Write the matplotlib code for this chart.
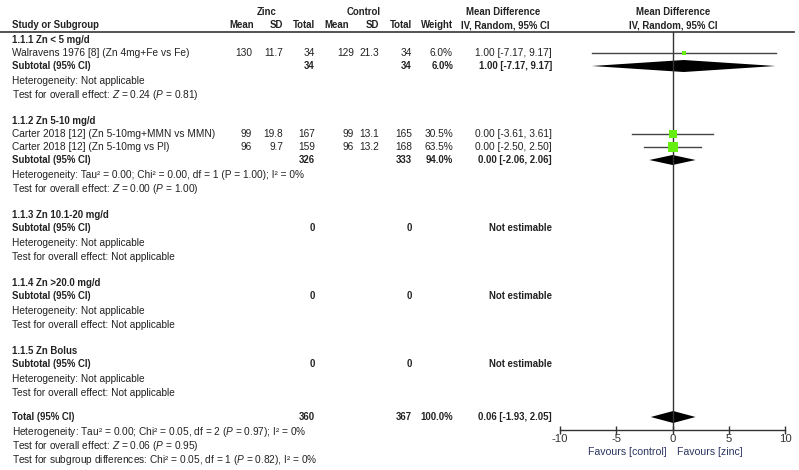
import numpy as np
import matplotlib.pyplot as plt

plt.rcParams['font.family'] = ['Liberation Sans', 'DejaVu Sans']
plt.rcParams['mathtext.fontset'] = 'custom'
plt.rcParams['mathtext.rm'] = 'Liberation Sans'
plt.rcParams['mathtext.it'] = 'Liberation Sans:italic'
plt.rcParams['axes.unicode_minus'] = False

# ---- data ----
group_titles = ['1.1.1 Zn < 5 mg/d', '1.1.2 Zn 5-10 mg/d', '1.1.3 Zn 10.1-20 mg/d',
                '1.1.4 Zn >20.0 mg/d', '1.1.5 Zn Bolus']
study_group = [0, 1, 1]
study_names = ['Walravens 1976 [8] (Zn 4mg+Fe vs Fe)',
               'Carter 2018 [12] (Zn 5-10mg+MMN vs MMN)',
               'Carter 2018 [12] (Zn 5-10mg vs Pl)']
zinc_mean = [130, 99, 96]
zinc_sd = [11.7, 19.8, 9.7]
zinc_n = [34, 167, 159]
ctrl_mean = [129, 99, 96]
ctrl_sd = [21.3, 13.1, 13.2]
ctrl_n = [34, 165, 168]
study_weight = [6.0, 30.5, 63.5]
study_md = [1.00, 0.00, 0.00]
study_lo = [-7.17, -3.61, -2.50]
study_hi = [9.17, 3.61, 2.50]

sub_zinc_n = [34, 326, 0, 0, 0]
sub_ctrl_n = [34, 333, 0, 0, 0]
sub_weight = [6.0, 94.0, None, None, None]
sub_md = [1.00, 0.00, None, None, None]
sub_lo = [-7.17, -2.06, None, None, None]
sub_hi = [9.17, 2.06, None, None, None]
sub_het = ['Heterogeneity: Not applicable',
           'Heterogeneity: Tau² = 0.00; Chi² = 0.00, df = 1 (P = 1.00); I² = 0%',
           'Heterogeneity: Not applicable',
           'Heterogeneity: Not applicable',
           'Heterogeneity: Not applicable']
sub_test = ['Test for overall effect: $Z$ = 0.24 ($P$ = 0.81)',
            'Test for overall effect: $Z$ = 0.00 ($P$ = 1.00)',
            'Test for overall effect: Not applicable',
            'Test for overall effect: Not applicable',
            'Test for overall effect: Not applicable']

total_zinc_n = 360
total_ctrl_n = 367
total_md, total_lo, total_hi = 0.06, -1.93, 2.05
total_notes = ['Heterogeneity: Tau² = 0.00; Chi² = 0.05, df = 2 ($P$ = 0.97); I² = 0%',
               'Test for overall effect: $Z$ = 0.06 ($P$ = 0.95)',
               'Test for subgroup differences: Chi² = 0.05, df = 1 ($P$ = 0.82), I² = 0%']

x_ticks = [-10, -5, 0, 5, 10]

# ---- layout ----
W, H = 799, 470
fig = plt.figure(figsize=(W / 100, H / 100), dpi=100)
tx = fig.add_axes([0, 0, 1, 1])
tx.set_xlim(0, W)
tx.set_ylim(H, 0)
tx.axis('off')

fs_b = 6.9   # bold
fs_r = 7.3   # regular
col = '#222222'
plot_left, plot_right = 560, 785
plot_top, plot_bottom = 32, 430

fp = fig.add_axes([plot_left / W, (H - plot_bottom) / H,
                   (plot_right - plot_left) / W, (plot_bottom - plot_top) / H])
fp.set_xlim(-10, 10)
fp.set_ylim(plot_bottom, plot_top)
fp.patch.set_alpha(0)
for s in ['top', 'right', 'left']:
    fp.spines[s].set_visible(False)
fp.spines['bottom'].set_color('#333333')
fp.spines['bottom'].set_linewidth(1.0)
fp.set_yticks([])
fp.set_xticks(x_ticks)
fp.tick_params(axis='x', direction='inout', length=6, width=1, color='#333333',
               labelsize=8.2, labelcolor='#333333', pad=0)
fp.axvline(0, color='#333333', lw=1.0)

def put(x, y, s, ha='left', bold=False, **kw):
    tx.text(x, y, s, ha=ha, va='center', fontsize=fs_b if bold else fs_r, color=col,
            fontweight='bold' if bold else 'normal', **kw)

def diamond(md, lo, hi, y, h):
    fp.fill([lo, md, hi, md], [y, y - h, y, y + h], color='black', lw=0)

# headers
put(267, 12, 'Zinc', ha='center', bold=True)
put(364, 12, 'Control', ha='center', bold=True)
put(503, 12, 'Mean Difference', ha='center', bold=True)
put(673, 12, 'Mean Difference', ha='center', bold=True)
put(12, 25, 'Study or Subgroup', bold=True)
hx = [(254, 'Mean'), (283, 'SD'), (315, 'Total'), (349, 'Mean'), (379, 'SD'),
      (412, 'Total'), (453, 'Weight')]
for x, s in hx:
    put(x, 25, s, ha='right', bold=True)
put(505, 25, 'IV, Random, 95% CI', ha='center', bold=True)
put(673, 25, 'IV, Random, 95% CI', ha='center', bold=True)
tx.plot([0, 794], [32, 32], color='#444444', lw=1.3)

y = 40
for g, title in enumerate(group_titles):
    put(12, y, title, bold=True)
    y += 13
    for i in range(len(study_names)):
        if study_group[i] != g:
            continue
        put(12, y, study_names[i])
        put(252, y, f'{zinc_mean[i]}', ha='right')
        put(283, y, f'{zinc_sd[i]}', ha='right')
        put(315, y, f'{zinc_n[i]}', ha='right')
        put(354, y, f'{ctrl_mean[i]}', ha='right')
        put(379, y, f'{ctrl_sd[i]}', ha='right')
        put(412, y, f'{ctrl_n[i]}', ha='right')
        put(453, y, f'{study_weight[i]:.1f}%', ha='right')
        put(552, y, f'{study_md[i]:.2f} [{study_lo[i]:.2f}, {study_hi[i]:.2f}]', ha='right')
        fp.plot([study_lo[i], study_hi[i]], [y, y], color='#444444', lw=1.0)
        ms = 0.95 * np.sqrt(study_weight[i])
        fp.plot(study_md[i], y, 's', color='#66EE11', ms=ms, mew=0)
        y += 13
    put(12, y, 'Subtotal (95% CI)', bold=True)
    put(315, y, f'{sub_zinc_n[g]}', ha='right', bold=True)
    put(412, y, f'{sub_ctrl_n[g]}', ha='right', bold=True)
    if sub_md[g] is None:
        put(552, y, 'Not estimable', ha='right', bold=True)
    else:
        put(453, y, f'{sub_weight[g]:.1f}%', ha='right', bold=True)
        put(552, y, f'{sub_md[g]:.2f} [{sub_lo[g]:.2f}, {sub_hi[g]:.2f}]', ha='right', bold=True)
        diamond(sub_md[g], sub_lo[g], sub_hi[g], y, 6 if g == 0 else 5)
    y += 15
    put(12, y, sub_het[g])
    y += 14
    put(12, y, sub_test[g])
    y += 26

y -= 2
put(12, y, 'Total (95% CI)', bold=True)
put(315, y, f'{total_zinc_n}', ha='right', bold=True)
put(412, y, f'{total_ctrl_n}', ha='right', bold=True)
put(453, y, '100.0%', ha='right', bold=True)
put(552, y, f'{total_md:.2f} [{total_lo:.2f}, {total_hi:.2f}]', ha='right', bold=True)
diamond(total_md, total_lo, total_hi, y, 6)
y += 15
for note in total_notes:
    put(12, y, note)
    y += 14

tx.text(667, 452, 'Favours [control]', ha='right', va='center', fontsize=7.6, color='#2a3560')
tx.text(677, 452, 'Favours [zinc]', ha='left', va='center', fontsize=7.6, color='#2a3560')

fig.savefig('out.png', dpi=100, facecolor='white')
